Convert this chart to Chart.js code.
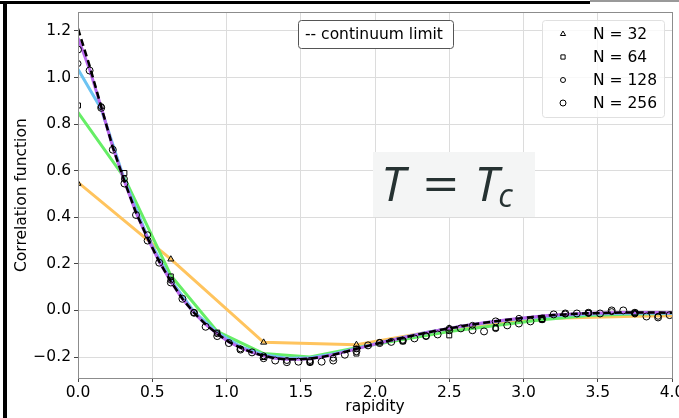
<!DOCTYPE html>
<html>
<head>
<meta charset="utf-8">
<script src="https://cdn.jsdelivr.net/npm/chart.js@4/dist/chart.umd.min.js"></script>
<style>
  html, body { margin: 0; padding: 0; background: #fff; overflow: hidden; }
  #wrap { position: relative; width: 679px; height: 418px; overflow: hidden; }
  #chart { position: absolute; left: 0; top: 0; }
  .bar { position: absolute; background: #000; }
  #tc {
    position: absolute; left: 373px; top: 152px; width: 162px; height: 65px;
    background: #f4f5f5; color: #263232;
    font-family: "Open Sans", sans-serif; font-style: italic; font-size: 48px;
    line-height: 62px; white-space: nowrap; box-sizing: border-box; padding-left: 8px;
  }
  #tc span { display: inline-block; }
  #tc .eq { margin-left: 22px; transform: scaleX(1.3); font-style: normal; }
  #tc .t2 { margin-left: 20px; }
  #tc sub { font-size: 32px; vertical-align: -6px; }
</style>
</head>
<body>
<div id="wrap">
  <canvas id="chart" width="700" height="418"></canvas>
  <div class="bar" style="left:0;top:1px;width:590px;height:3px;"></div>
  <div class="bar" style="left:590px;top:0;width:89px;height:2px;background:#999;"></div>
  <div class="bar" style="left:3px;top:1px;width:4px;height:417px;"></div>
  <div id="tc"><span>T</span><span class="eq">=</span><span class="t2">T<sub>c</sub></span></div>
</div>
<script>
// lattice spacing in rapidity for each N (range 20 / N)
const SPACING = { 32: 0.625, 64: 0.3125, 128: 0.15625, 256: 0.078125 };

// ---- lines (one value per lattice site) ----
const line32 = [0.55, 0.22, -0.137, -0.147, -0.077, -0.035, -0.025, -0.02];
const line64 = [0.85, 0.57, 0.15, -0.09, -0.185, -0.2, -0.16, -0.125, -0.09, -0.065,
  -0.04, -0.022, -0.015, -0.012];
const line128 = [1.035, 0.865, 0.56, 0.315, 0.13, -0.005, -0.095, -0.155, -0.19, -0.205,
  -0.203, -0.187, -0.163, -0.138, -0.116, -0.095, -0.077, -0.061, -0.047, -0.036,
  -0.027, -0.02, -0.016, -0.013, -0.012, -0.012, -0.012];
const line256 = [1.17, 1.035, 0.872, 0.70, 0.555, 0.42, 0.31, 0.21, 0.125, 0.05,
  -0.01, -0.06, -0.1, -0.135, -0.16, -0.18, -0.195, -0.205, -0.21, -0.21,
  -0.207, -0.2, -0.19, -0.178, -0.165, -0.152, -0.14, -0.128, -0.117, -0.106,
  -0.096, -0.086, -0.077, -0.068, -0.06, -0.053, -0.046, -0.04, -0.034, -0.029,
  -0.024, -0.02, -0.017, -0.014, -0.012, -0.011, -0.01, -0.009, -0.009, -0.009,
  -0.009, -0.01, -0.01];
const continuum = [1.21, 1.05, 0.875, 0.70, 0.555, 0.42, 0.31, 0.21, 0.125, 0.05,
  -0.01, -0.06, -0.1, -0.135, -0.16, -0.18, -0.195, -0.205, -0.21, -0.21,
  -0.207, -0.2, -0.19, -0.178, -0.165, -0.152, -0.14, -0.128, -0.117, -0.106,
  -0.096, -0.086, -0.077, -0.068, -0.06, -0.053, -0.046, -0.04, -0.034, -0.029,
  -0.024, -0.02, -0.017, -0.014, -0.012, -0.011, -0.01, -0.009, -0.009, -0.009,
  -0.009, -0.01, -0.01];

// ---- measured markers ----
const pts32 = [0.545, 0.22, -0.137, -0.147, -0.077, -0.04, -0.012];
const pts64 = [0.88, 0.59, 0.146, -0.095, -0.2, -0.222, -0.185, -0.133, -0.107, -0.075,
  -0.04, -0.01, -0.01];
const pts128 = [1.06, 0.875, 0.565, 0.325, 0.13, -0.01, -0.1, -0.165, -0.195, -0.215,
  -0.215, -0.205, -0.165, -0.137, -0.128, -0.11, -0.077, -0.064, -0.078, -0.034,
  -0.04, -0.015, -0.012, -0.005, -0.015, -0.025];
const pts256 = [1.12, 1.03, 0.87, 0.69, 0.545, 0.41, 0.30, 0.205, 0.12, 0.05,
  -0.01, -0.07, -0.11, -0.14, -0.168, -0.18, -0.205, -0.215, -0.222, -0.22,
  -0.222, -0.22, -0.215, -0.19, -0.175, -0.15, -0.14, -0.135, -0.13, -0.12,
  -0.11, -0.103, -0.085, -0.077, -0.085, -0.09, -0.047, -0.064, -0.056, -0.047,
  -0.035, -0.017, -0.013, -0.013, -0.01, -0.013, 0.0, 0.0, -0.01, -0.026,
  -0.03, -0.02];

const xTicks = [0, 0.5, 1, 1.5, 2, 2.5, 3, 3.5, 4];
const yTicks = [-0.2, 0, 0.2, 0.4, 0.6, 0.8, 1.0, 1.2];

const FONT = '"DejaVu Sans", sans-serif';

function onLattice(values, n) {
  return values.map((v, i) => ({ x: i * SPACING[n], y: v }));
}

function markerSet(label, values, n, style, radius) {
  return {
    label: label,
    data: onLattice(values, n),
    showLine: false,
    pointStyle: style,
    pointRadius: radius,
    pointBorderWidth: 1,
    pointBorderColor: '#000',
    pointBackgroundColor: 'rgba(255,255,255,0)',
    clip: 0
  };
}

function lineSet(values, n, color, dash, width) {
  return {
    data: onLattice(values, n),
    showLine: true,
    borderColor: color,
    borderWidth: width,
    borderDash: dash || [],
    pointRadius: 0,
    tension: 0,
    clip: 0
  };
}

function fmt(v) {
  if (Math.abs(v) < 1e-9) return '0.0';
  return v.toFixed(1).replace('-', '\u2212');
}

// frame around the plot area
const framePlugin = {
  id: 'frame',
  afterDraw(chart) {
    const { ctx, chartArea: a } = chart;
    ctx.save();
    ctx.strokeStyle = '#8c8c8c';
    ctx.lineWidth = 1;
    ctx.strokeRect(Math.round(a.left) + 0.5, Math.round(a.top) + 0.5,
      Math.round(a.right - a.left), Math.round(a.bottom - a.top));
    ctx.restore();
  }
};

function roundRect(ctx, x, y, w, h, r) {
  ctx.beginPath();
  ctx.moveTo(x + r, y);
  ctx.arcTo(x + w, y, x + w, y + h, r);
  ctx.arcTo(x + w, y + h, x, y + h, r);
  ctx.arcTo(x, y + h, x, y, r);
  ctx.arcTo(x, y, x + w, y, r);
  ctx.closePath();
}

// legend box (markers only) and the continuum note
const legendPlugin = {
  id: 'legendBox',
  afterDraw(chart) {
    const ctx = chart.ctx;
    ctx.save();
    // continuum note
    roundRect(ctx, 298.5, 20.5, 155, 28, 3);
    ctx.fillStyle = '#fff';
    ctx.fill();
    ctx.strokeStyle = '#555';
    ctx.lineWidth = 1;
    ctx.stroke();
    ctx.fillStyle = '#000';
    ctx.font = '15.5px ' + FONT;
    ctx.textBaseline = 'middle';
    ctx.fillText('-- continuum limit', 305, 35);

    // legend
    roundRect(ctx, 542.5, 20.5, 122, 97, 3);
    ctx.fillStyle = 'rgba(255,255,255,0.8)';
    ctx.fill();
    ctx.strokeStyle = '#e0e0e0';
    ctx.stroke();
    const rows = [34, 57, 80, 103];
    chart.data.datasets.slice(0, 4).forEach((ds, i) => {
      ctx.fillStyle = 'rgba(0,0,0,0)';
      ctx.strokeStyle = '#000';
      ctx.lineWidth = 1;
      Chart.helpers.drawPoint(ctx, {
        pointStyle: ds.pointStyle, radius: ds.pointRadius - 0.5, borderWidth: 1
      }, 563, rows[i]);
      ctx.fillStyle = '#000';
      ctx.fillText(ds.label, 593, rows[i] + 1);
    });
    ctx.restore();
  }
};

new Chart(document.getElementById('chart'), {
  type: 'scatter',
  data: {
    datasets: [
      markerSet('N = 32', pts32, 32, 'triangle', 3.5),
      markerSet('N = 64', pts64, 64, 'rect', 3.5),
      markerSet('N = 128', pts128, 128, 'circle', 3),
      markerSet('N = 256', pts256, 256, 'circle', 3.5),
      lineSet(continuum, 256, '#000', [7, 4], 2.5),
      lineSet(line256, 256, '#b968ee', null, 3),
      lineSet(line128, 128, '#6cc3f2', null, 3),
      lineSet(line64, 64, '#66ee66', null, 3),
      lineSet(line32, 32, '#ffc45e', null, 3)
    ]
  },
  options: {
    responsive: false,
    animation: false,
    events: [],
    layout: { padding: { left: 8, right: 28, top: 12, bottom: 0 } },
    plugins: { legend: { display: false }, tooltip: { enabled: false } },
    scales: {
      x: {
        type: 'linear',
        min: 0,
        max: 4,
        afterFit(scale) { scale.height = 40; },
        afterBuildTicks(scale) { scale.ticks = xTicks.map(v => ({ value: v })); },
        ticks: { color: '#000', font: { family: FONT, size: 15.5 }, padding: 2, callback: fmt },
        grid: { color: '#dcdcdc', tickColor: '#444', tickLength: 4 },
        border: { color: '#8c8c8c' },
        title: { display: true, text: 'rapidity', color: '#000',
          font: { family: FONT, size: 15.5 }, padding: { top: 0, bottom: 2 } }
      },
      y: {
        min: -0.29,
        max: 1.28,
        afterFit(scale) { scale.width = 70; },
        afterBuildTicks(scale) { scale.ticks = yTicks.map(v => ({ value: v })); },
        ticks: { color: '#000', font: { family: FONT, size: 15.5 }, padding: 3, callback: fmt },
        grid: { color: '#dcdcdc', tickColor: '#444', tickLength: 4 },
        border: { color: '#8c8c8c' },
        title: { display: true, text: 'Correlation function', color: '#000',
          font: { family: FONT, size: 15.5 }, padding: { top: 5, bottom: 5 } }
      }
    }
  },
  plugins: [framePlugin, legendPlugin]
});
</script>
</body>
</html>
